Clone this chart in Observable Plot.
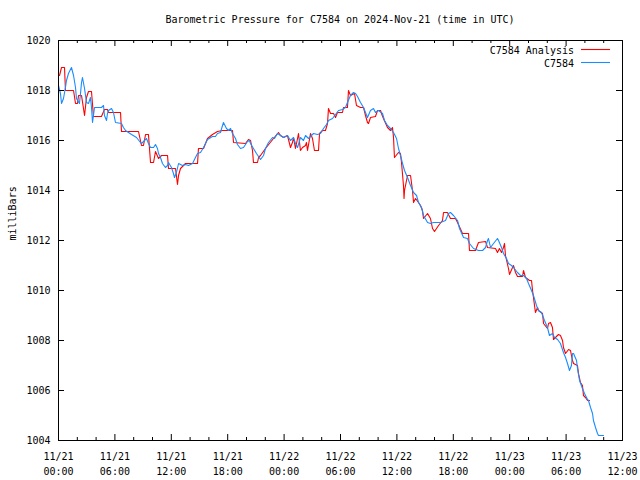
<!DOCTYPE html>
<html><head><meta charset="utf-8">
<script src="https://cdn.jsdelivr.net/npm/d3@7"></script>
<script src="https://cdn.jsdelivr.net/npm/@observablehq/plot@0.6"></script>
<style>
body{margin:0;background:#fff;}
#wrap{position:relative;width:640px;height:480px;font-family:"DejaVu Sans Mono",monospace;}
#title{position:absolute;left:0;top:14px;width:680px;text-align:center;font-size:10px;line-height:12px;color:#000;}
</style></head><body>
<div id="wrap"><div id="title">Barometric Pressure for C7584 on 2024-Nov-21 (time in UTC)</div></div>
<script>
// hours since 2024-11-21 00:00 UTC, pressure in millibars
const analysisSeries = [[0.11,1018.60],[0.32,1018.92],[0.64,1018.92],[0.74,1018.00],[1.60,1018.00],[1.81,1017.48],[2.02,1017.48],[2.13,1017.80],[2.45,1017.80],[2.77,1017.00],[2.98,1017.72],[3.19,1017.96],[3.51,1017.96],[3.72,1016.96],[4.57,1016.96],[4.89,1017.24],[5.21,1017.24],[5.32,1017.12],[6.60,1017.12],[6.70,1016.36],[8.51,1016.36],[8.83,1015.80],[9.04,1015.80],[9.26,1016.24],[9.57,1016.24],[9.79,1015.12],[10.11,1015.12],[10.32,1015.56],[10.64,1015.28],[10.96,1015.40],[11.60,1015.40],[11.70,1014.88],[12.45,1014.88],[12.66,1014.24],[12.77,1014.60],[12.98,1014.88],[13.51,1015.08],[14.79,1015.08],[14.89,1015.68],[15.43,1015.68],[15.85,1016.08],[16.38,1016.24],[16.91,1016.36],[17.45,1016.40],[18.51,1016.40],[18.62,1015.92],[19.89,1015.88],[20.21,1016.04],[20.43,1016.00],[20.64,1015.60],[20.74,1015.12],[21.17,1015.12],[21.28,1015.32],[21.49,1015.40],[22.02,1015.68],[22.87,1016.08],[23.40,1016.32],[23.62,1016.20],[23.94,1016.12],[24.36,1016.20],[24.68,1015.72],[24.89,1015.92],[25.00,1016.12],[25.21,1015.68],[25.43,1016.08],[25.53,1016.28],[25.74,1015.60],[25.96,1015.72],[26.28,1015.80],[26.38,1015.92],[26.49,1015.60],[26.81,1016.28],[27.02,1016.08],[27.23,1015.60],[27.66,1015.60],[27.77,1016.28],[28.09,1016.40],[28.40,1016.40],[28.62,1016.68],[28.72,1017.28],[28.94,1017.08],[29.26,1017.08],[29.47,1016.92],[29.68,1017.12],[30.21,1017.12],[30.32,1017.32],[30.74,1017.32],[30.85,1018.00],[31.06,1017.80],[31.49,1017.88],[31.70,1017.40],[32.13,1017.32],[32.45,1017.32],[32.66,1017.00],[32.87,1016.72],[32.98,1016.68],[33.19,1016.92],[33.72,1016.96],[33.94,1017.20],[34.26,1017.20],[34.36,1017.08],[34.57,1016.88],[35.00,1016.52],[35.32,1016.40],[35.53,1016.52],[35.64,1016.12],[35.74,1015.32],[36.17,1015.52],[36.38,1015.48],[36.49,1015.12],[36.70,1014.20],[36.76,1013.68],[36.81,1014.00],[37.13,1014.60],[37.45,1014.60],[37.66,1014.00],[37.77,1013.52],[37.98,1013.68],[38.30,1013.52],[38.51,1013.40],[38.72,1013.20],[38.83,1012.88],[39.26,1013.08],[39.57,1012.88],[39.79,1012.48],[40.00,1012.36],[40.43,1012.60],[40.85,1012.80],[40.96,1013.12],[41.38,1013.12],[41.70,1012.88],[42.23,1012.88],[42.45,1012.72],[42.98,1012.28],[43.62,1012.28],[43.72,1011.60],[44.36,1011.60],[44.68,1011.92],[45.43,1011.96],[45.64,1011.72],[46.49,1011.68],[46.70,1011.52],[46.91,1011.68],[47.13,1011.52],[47.34,1011.72],[47.45,1011.88],[47.55,1011.40],[47.87,1010.88],[47.98,1010.64],[48.30,1010.92],[48.40,1011.00],[48.62,1010.72],[48.83,1010.56],[49.36,1010.56],[49.47,1010.80],[49.68,1010.52],[50.11,1010.40],[50.32,1010.40],[50.43,1010.00],[50.64,1009.40],[50.74,1009.12],[50.96,1009.32],[51.06,1009.20],[51.49,1009.08],[51.60,1008.68],[52.02,1008.48],[52.13,1008.68],[52.34,1008.72],[52.55,1008.52],[52.66,1008.04],[52.87,1008.12],[53.19,1008.24],[53.40,1008.20],[53.62,1008.00],[53.72,1007.72],[53.94,1007.48],[54.26,1007.64],[54.47,1007.60],[54.57,1007.40],[54.68,1007.20],[54.79,1007.08],[55.21,1007.00],[55.32,1006.68],[55.53,1006.32],[55.74,1006.20],[55.85,1005.80],[56.06,1005.72],[56.28,1005.60],[56.49,1005.60]];

const stationSeries = [[0.00,1018.20],[0.21,1017.88],[0.32,1017.48],[0.53,1017.68],[0.74,1018.12],[0.85,1018.40],[1.06,1018.68],[1.38,1018.92],[1.60,1018.60],[1.81,1018.12],[1.91,1017.68],[2.23,1017.48],[2.34,1017.88],[2.45,1018.32],[2.55,1018.52],[2.77,1018.08],[2.98,1017.52],[3.19,1017.48],[3.40,1017.72],[3.51,1017.32],[3.62,1016.72],[3.72,1017.00],[3.83,1017.32],[4.57,1017.32],[4.79,1017.40],[4.89,1017.00],[5.11,1016.80],[5.21,1017.08],[5.32,1017.20],[5.64,1017.28],[5.85,1017.12],[6.06,1016.72],[6.70,1016.68],[6.91,1016.52],[7.13,1016.40],[7.45,1016.32],[7.77,1016.24],[8.30,1016.12],[8.72,1015.92],[8.83,1015.88],[9.15,1016.00],[9.36,1016.08],[9.57,1015.88],[9.79,1015.72],[10.11,1015.72],[10.32,1015.84],[10.53,1015.68],[10.64,1015.48],[10.85,1015.32],[11.06,1015.08],[11.38,1014.92],[11.60,1015.00],[11.70,1015.12],[12.02,1014.92],[12.23,1014.68],[12.34,1014.52],[12.55,1014.72],[12.77,1015.08],[13.19,1015.00],[13.51,1015.04],[13.83,1015.00],[14.26,1015.08],[14.57,1015.32],[14.79,1015.48],[15.11,1015.52],[15.43,1015.72],[15.85,1016.04],[16.38,1016.16],[16.70,1016.16],[16.91,1016.28],[17.23,1016.32],[17.45,1016.60],[17.55,1016.72],[17.87,1016.48],[18.09,1016.40],[18.30,1016.48],[18.51,1016.28],[18.83,1016.08],[19.04,1015.84],[19.36,1015.68],[19.68,1015.72],[20.11,1015.96],[20.32,1016.00],[20.43,1015.88],[20.74,1015.68],[21.06,1015.48],[21.28,1015.36],[21.49,1015.24],[21.81,1015.40],[22.02,1015.68],[22.34,1015.92],[22.77,1016.12],[22.98,1016.08],[23.30,1016.28],[23.62,1016.20],[23.94,1016.12],[24.36,1016.20],[24.68,1016.00],[25.00,1016.12],[25.21,1015.88],[25.43,1015.72],[25.74,1016.12],[26.06,1016.00],[26.28,1016.20],[26.60,1016.08],[26.91,1016.20],[27.13,1016.28],[27.55,1016.24],[27.87,1016.28],[28.19,1016.48],[28.51,1016.64],[28.72,1016.80],[29.15,1016.88],[29.47,1017.04],[29.79,1017.20],[30.21,1017.24],[30.53,1017.32],[30.74,1017.52],[31.06,1017.80],[31.38,1017.92],[31.60,1017.88],[31.81,1017.76],[32.13,1017.52],[32.45,1017.32],[32.87,1016.92],[33.19,1017.20],[33.51,1017.28],[33.72,1017.12],[34.04,1017.20],[34.47,1017.08],[34.68,1016.80],[35.00,1016.60],[35.32,1016.48],[35.64,1016.32],[35.96,1016.08],[36.17,1015.68],[36.38,1015.40],[36.60,1015.08],[36.81,1014.80],[37.13,1014.52],[37.45,1014.20],[37.77,1013.92],[38.09,1013.80],[38.30,1013.52],[38.62,1013.32],[38.83,1013.00],[39.26,1012.72],[39.57,1012.68],[39.89,1012.72],[40.64,1012.72],[41.17,1012.80],[41.49,1013.08],[41.70,1013.12],[42.02,1013.00],[42.45,1012.80],[42.66,1012.48],[43.09,1012.12],[43.51,1012.08],[43.72,1011.88],[44.15,1011.68],[44.68,1011.60],[45.11,1011.60],[45.43,1011.72],[45.64,1012.00],[45.74,1012.08],[45.96,1011.72],[46.28,1011.88],[46.70,1012.08],[46.81,1012.00],[47.13,1011.72],[47.34,1011.48],[47.66,1011.28],[47.87,1011.08],[48.19,1011.00],[48.40,1010.92],[48.83,1010.72],[49.15,1010.60],[49.47,1010.60],[49.79,1010.48],[50.00,1010.28],[50.32,1010.00],[50.53,1009.80],[50.85,1009.40],[51.06,1009.20],[51.38,1009.12],[51.70,1008.80],[52.02,1008.52],[52.23,1008.20],[52.55,1008.28],[52.77,1008.12],[53.09,1008.04],[53.40,1007.88],[53.72,1007.52],[53.94,1007.32],[54.15,1007.08],[54.36,1006.80],[54.57,1007.00],[54.68,1007.48],[54.79,1007.48],[55.11,1007.20],[55.21,1006.88],[55.43,1006.40],[55.74,1006.08],[55.96,1005.88],[56.28,1005.64],[56.38,1005.60],[56.60,1005.32],[56.81,1005.08],[56.91,1004.80],[57.13,1004.52],[57.34,1004.28],[57.45,1004.20],[57.98,1004.20]];

const seriesNames = ["C7584 Analysis", "C7584"];
const seriesColors = ["#ff0000", "#1a8cff"];
const yTicks = [1004, 1006, 1008, 1010, 1012, 1014, 1016, 1018, 1020];
const xTickHours = [0, 6, 12, 18, 24, 30, 36, 42, 48, 54, 60];
const xTickLabels = ["11/21\n00:00","11/21\n06:00","11/21\n12:00","11/21\n18:00","11/22\n00:00","11/22\n06:00","11/22\n12:00","11/22\n18:00","11/23\n00:00","11/23\n06:00","11/23\n12:00"];
const xMinorHours = [2,4,8,10,14,16,20,22,26,28,32,34,38,40,44,46,50,52,56,58];
const yLabel = "milliBars";

const analysis = analysisSeries.map(([h, mb]) => ({h, mb}));
const station = stationSeries.map(([h, mb]) => ({h, mb}));

const W = 640, H = 480, mL = 58, mR = 18, mT = 40, mB = 40;
const iw = W - mL - mR, ih = H - mT - mB;

const chart = Plot.plot({
  width: W, height: H,
  marginLeft: mL, marginRight: mR, marginTop: mT, marginBottom: mB,
  style: {fontFamily: "DejaVu Sans Mono", fontSize: "10px", background: "transparent", color: "#000"},
  x: {domain: [0, 60]},
  y: {domain: [1004, 1020]},
  marks: [
    Plot.line(analysis, {x: "h", y: "mb", stroke: seriesColors[0], strokeWidth: 1.1}),
    Plot.line(station, {x: "h", y: "mb", stroke: seriesColors[1], strokeWidth: 1.1}),
    Plot.tickY(yTicks, {y: d => d, insetRight: iw - 6, stroke: "#000"}),
    Plot.tickY(yTicks, {y: d => d, insetLeft: iw - 6, stroke: "#000"}),
    Plot.tickX(xTickHours, {x: d => d, insetTop: ih - 6, stroke: "#000"}),
    Plot.tickX(xTickHours, {x: d => d, insetBottom: ih - 6, stroke: "#000"}),
    Plot.tickX(xMinorHours, {x: d => d, insetTop: ih - 3, stroke: "#000"}),
    Plot.tickX(xMinorHours, {x: d => d, insetBottom: ih - 3, stroke: "#000"}),
    Plot.frame({stroke: "#000", strokeWidth: 1}),
    Plot.axisY(yTicks, {tickSize: 0, tickPadding: 8, label: null, tickFormat: d => String(d)}),
    Plot.axisX(xTickHours, {tickSize: 0, tickPadding: 9, label: null, lineHeight: 1.5,
      tickFormat: d => xTickLabels[xTickHours.indexOf(d)]}),
    Plot.text([yLabel], {frameAnchor: "left", dx: -46, rotate: -90, text: d => d, fontSize: 10})
  ]
});

document.getElementById("wrap").appendChild(chart);

// legend (top right, inside frame)
const svg = d3.select(chart);
const leg = svg.append("g").attr("font-family", "DejaVu Sans Mono").attr("font-size", 10);
seriesNames.forEach((name, i) => {
  const y = 53.5 + i * 13;
  leg.append("text").attr("x", 574).attr("y", y).attr("text-anchor", "end").attr("fill", "#000").text(name);
  leg.append("line").attr("x1", 581).attr("x2", 610).attr("y1", y - 4).attr("y2", y - 4)
    .attr("stroke", seriesColors[i]).attr("stroke-width", 1.1);
});
</script>
</body></html>
